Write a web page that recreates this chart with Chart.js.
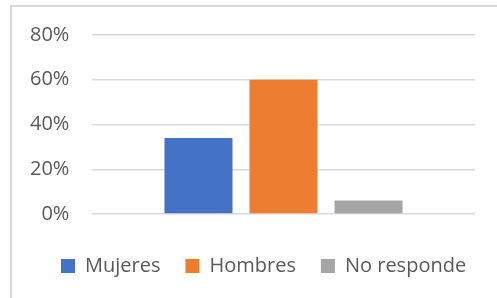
<!DOCTYPE html>
<html>
<head>
<meta charset="utf-8">
<script src="https://cdn.jsdelivr.net/npm/chart.js@4.4.1/dist/chart.umd.min.js"></script>
<style>
  html, body { margin: 0; padding: 0; background: #ffffff; }
  #wrap { position: relative; width: 497px; height: 298px; overflow: hidden; }
  #frame { position: absolute; left: 10px; top: 5px; width: 500px; height: 300px;
           border-top: 2px solid #d9d9d9; border-left: 2px solid #d9d9d9; box-sizing: border-box; }
  canvas { position: absolute; left: 0; top: 0; }
</style>
</head>
<body>
<div id="wrap">
  <div id="frame"></div>
  <canvas id="c" width="497" height="298"></canvas>
</div>
<script>
const categories = [""];
const seriesNames = ["Mujeres", "Hombres", "No responde"];
const mujeres = [0.34];
const hombres = [0.60];
const noResponde = [0.06];
const yTicks = [0, 0.2, 0.4, 0.6, 0.8];
const colors = ["#4472C4", "#ED7D31", "#A5A5A5"];

const seriesValues = [mujeres, hombres, noResponde];
const textColor = "#595959";
const fontFamily = "'Open Sans', 'Noto Sans', sans-serif";

new Chart(document.getElementById("c"), {
  type: "bar",
  data: {
    labels: categories,
    datasets: seriesNames.map((name, i) => ({
      label: name,
      data: seriesValues[i],
      backgroundColor: colors[i],
      borderWidth: 0,
      barPercentage: 0.8,
      categoryPercentage: 0.666
    }))
  },
  options: {
    responsive: false,
    animation: false,
    devicePixelRatio: 1,
    layout: { padding: { left: 36, right: 0, top: 35, bottom: 12 } },
    plugins: {
      tooltip: { enabled: false },
      legend: {
        position: "bottom",
        align: "start",
        labels: {
          boxWidth: 14,
          boxHeight: 14,
          padding: 25,
          color: textColor,
          font: { family: fontFamily, size: 20 }
        }
      }
    },
    scales: {
      x: {
        display: true,
        ticks: { display: false },
        grid: { display: false },
        border: { display: false },
        afterFit: (scale) => { scale.height = 17; }
      },
      y: {
        position: "left",
        min: yTicks[0],
        max: yTicks[yTicks.length - 1],
        afterBuildTicks: (scale) => { scale.ticks = yTicks.map(v => ({ value: v })); },
        afterFit: (scale) => { scale.width = 56; },
        ticks: {
          mirror: true,
          crossAlign: "far",
          padding: -62,
          color: textColor,
          font: { family: fontFamily, size: 20 },
          callback: (v) => Math.round(v * 100) + "%"
        },
        grid: { color: "#d9d9d9", lineWidth: 1.5, drawTicks: false },
        border: { display: false }
      },
      yRight: {
        position: "right",
        display: true,
        min: 0,
        max: 1,
        ticks: { display: false },
        grid: { display: false, drawOnChartArea: false },
        border: { display: false },
        afterFit: (scale) => { scale.width = 22; }
      }
    }
  }
});
</script>
</body>
</html>
